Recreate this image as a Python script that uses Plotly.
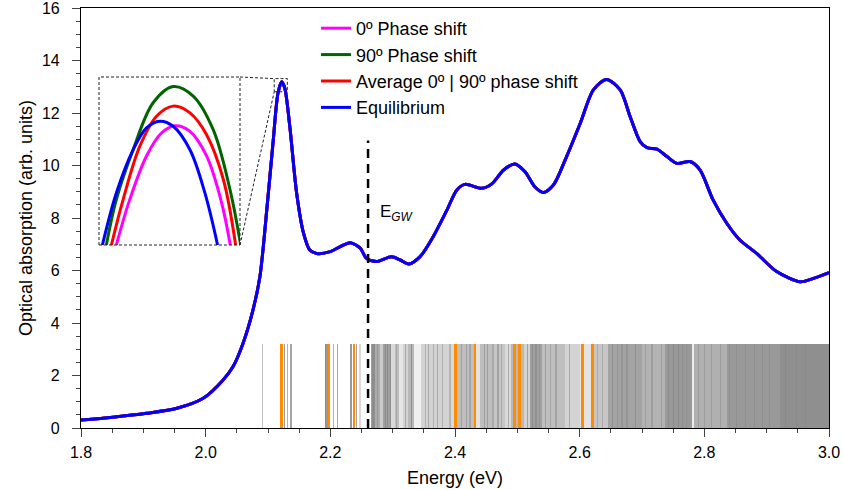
import plotly.graph_objects as go

# ---------------- data ----------------
energy = [1.800, 1.851, 1.905, 1.954, 1.996, 2.028, 2.044, 2.060, 2.076, 2.087, 2.098, 2.108,
          2.116, 2.122, 2.127, 2.135, 2.146, 2.157, 2.167, 2.178, 2.200, 2.216, 2.232, 2.248,
          2.258, 2.274, 2.298, 2.312, 2.326, 2.344, 2.365, 2.387, 2.403, 2.416, 2.443, 2.459,
          2.478, 2.496, 2.512, 2.528, 2.542, 2.558, 2.579, 2.601, 2.622, 2.643, 2.665, 2.681,
          2.697, 2.708, 2.724, 2.740, 2.756, 2.777, 2.793, 2.814, 2.836, 2.857, 2.884, 2.916,
          2.954, 2.975, 3.000]
absorption = [0.30, 0.41, 0.56, 0.75, 1.13, 1.83, 2.34, 3.23, 4.50, 5.76, 8.30, 10.85,
              12.75, 13.19, 12.94, 11.48, 8.94, 7.42, 6.78, 6.65, 6.72, 6.91, 7.06, 6.85,
              6.46, 6.34, 6.52, 6.40, 6.25, 6.53, 7.29, 8.30, 9.07, 9.28, 9.13, 9.30,
              9.83, 10.06, 9.77, 9.19, 8.97, 9.26, 10.34, 11.61, 12.88, 13.28, 12.88, 11.86,
              10.91, 10.68, 10.62, 10.34, 10.08, 10.15, 9.83, 8.69, 7.80, 7.16, 6.65, 5.96,
              5.57, 5.70, 5.92]

series_names = ["0º Phase shift", "90º Phase shift", "Average 0º | 90º phase shift", "Equilibrium"]
series_colors = ["#ff00ff", "#006400", "#ff0000", "#0000ff"]

# zoomed peak tops (inset)
inset_e = {
    "0º Phase shift": [2.11823, 2.11918, 2.12037, 2.12143, 2.12238, 2.12345, 2.12463, 2.12570, 2.12631],
    "90º Phase shift": [2.11752, 2.11823, 2.11942, 2.12084, 2.12226, 2.12368, 2.12510, 2.12629, 2.12705],
    "Average 0º | 90º phase shift": [2.11788, 2.11871, 2.11989, 2.12108, 2.12226, 2.12345, 2.12463, 2.12582, 2.12669],
    "Equilibrium": [2.11724, 2.11823, 2.11942, 2.12037, 2.12131, 2.12226, 2.12345, 2.12451, 2.12541],
}
inset_a = {
    "0º Phase shift": [13.000, 13.081, 13.159, 13.200, 13.213, 13.203, 13.159, 13.075, 13.000],
    "90º Phase shift": [13.000, 13.081, 13.170, 13.254, 13.283, 13.266, 13.206, 13.099, 13.000],
    "Average 0º | 90º phase shift": [13.000, 13.081, 13.176, 13.230, 13.248, 13.236, 13.197, 13.117, 13.000],
    "Equilibrium": [13.000, 13.093, 13.170, 13.209, 13.221, 13.212, 13.170, 13.093, 13.000],
}

# optical transitions (stick spectrum)
trans_height = 3.2
gray_e = [2.0909, 2.1262, 2.1316, 2.1369, 2.1925, 2.1947, 2.2048, 2.2118, 2.2332, 2.2423, 2.2476,
          2.267, 2.270, 2.276, 2.288, 2.292, 2.296, 2.306, 2.321, 2.330, 2.352, 2.358, 2.365,
          2.372, 2.380, 2.392, 2.411, 2.418, 2.424, 2.447, 2.452, 2.461, 2.469, 2.474, 2.486,
          2.516, 2.524, 2.530, 2.536, 2.545, 2.553, 2.562, 2.583, 2.628, 2.636, 2.652, 2.660,
          2.668, 2.676, 2.690, 2.706, 2.716, 2.731, 2.742, 2.750, 2.758, 2.765, 2.772, 2.790,
          2.800, 2.812, 2.826, 2.841, 2.852, 2.866, 2.880, 2.893, 2.905, 2.930, 2.948, 2.962]
gray_w = [0.5, 0.8, 0.6, 0.7, 0.9, 0.8, 0.6, 0.7, 0.8, 0.7, 0.3,
          0.6, 0.6, 0.5, 0.6, 0.6, 0.5, 0.4, 0.5, 0.7, 0.4, 0.5, 0.4,
          0.5, 0.4, 0.4, 0.5, 0.5, 0.4, 0.5, 0.5, 0.4, 0.5, 0.4, 0.5,
          0.6, 0.5, 0.5, 0.4, 0.5, 0.4, 0.4, 0.5, 0.4, 0.4, 0.5, 0.4,
          0.4, 0.4, 0.5, 0.4, 0.4, 0.4, 0.5, 0.5, 0.5, 0.4, 0.4, 0.4,
          0.4, 0.4, 0.4, 0.4, 0.4, 0.4, 0.4, 0.4, 0.4, 0.3, 0.3, 0.3]
band_start = [2.265, 2.272, 2.279, 2.285, 2.298, 2.303, 2.310, 2.316, 2.325, 2.335, 2.345, 2.390,
              2.400, 2.430, 2.440, 2.460, 2.480, 2.490, 2.510, 2.520, 2.540, 2.577, 2.600, 2.622,
              2.646, 2.700, 2.737, 2.780, 2.783, 2.836, 2.921]
band_end = [2.272, 2.279, 2.285, 2.298, 2.303, 2.310, 2.316, 2.325, 2.335, 2.345, 2.390, 2.400,
            2.430, 2.440, 2.460, 2.480, 2.490, 2.510, 2.520, 2.540, 2.577, 2.600, 2.622, 2.646,
            2.700, 2.737, 2.780, 2.783, 2.836, 2.921, 3.000]
band_w = [0.75, 0.65, 0.4, 0.75, 0.3, 0.5, 0.2, 0.35, 0.55, 0.12, 0.35, 0.3,
          0.5, 0.22, 0.5, 0.45, 0.3, 0.55, 0.35, 0.75, 0.5, 0.35, 0.22, 0.45,
          0.72, 0.6, 0.8, 0.15, 0.62, 0.8, 0.88]
orange_e = [2.122, 2.198, 2.238, 2.401, 2.432, 2.495, 2.504, 2.604, 2.620]

e_gw = 2.2605
e_gw_top = 10.95

zoom_box_x = (2.110, 2.131)
zoom_box_y = (12.81, 13.31)
inset_xrange = (2.117, 2.127)
inset_yrange = (13.00, 13.30)

x_range = (1.8, 3.0)
y_range = (0, 16)

# ---------------- figure ----------------
fig = go.Figure()

fig.add_trace(go.Bar(
    x=[(s + e) / 2 for s, e in zip(band_start, band_end)], y=[trans_height] * len(band_start),
    width=[e - s for s, e in zip(band_start, band_end)],
    marker=dict(color=[f"rgba(128,128,128,{w})" for w in band_w], line_width=0),
    showlegend=False, hoverinfo="skip"))
fig.add_trace(go.Bar(
    x=gray_e, y=[trans_height] * len(gray_e), width=[0.0018] * len(gray_e),
    marker=dict(color=[f"rgba(128,128,128,{w})" for w in gray_w], line_width=0),
    showlegend=False, hoverinfo="skip"))
fig.add_trace(go.Bar(
    x=orange_e, y=[trans_height] * len(orange_e), width=[0.0045] * len(orange_e),
    marker=dict(color="#ff8c00", line_width=0),
    showlegend=False, hoverinfo="skip"))

for name, col in zip(series_names, series_colors):
    fig.add_trace(go.Scatter(x=energy, y=absorption, mode="lines", name=name,
                             line=dict(color=col, width=3, shape="spline", smoothing=0.8)))

fig.add_trace(go.Scatter(x=[e_gw, e_gw], y=[0, e_gw_top], mode="lines", showlegend=False,
                         line=dict(color="black", width=2.5, dash="9px,6px")))

for name, col in zip(series_names, series_colors):
    fig.add_trace(go.Scatter(x=inset_e[name], y=inset_a[name], mode="lines", showlegend=False,
                             xaxis="x2", yaxis="y2",
                             line=dict(color=col, width=3, shape="spline", smoothing=1.0)))

# geometry
L, R, T, B = 81, 14, 8, 62
W, H = 843, 490
pw, ph = W - L - R, H - T - B
inset_px = (99, 240, 77, 245)  # left, right, top, bottom in pixels
ix0 = (inset_px[0] - L) / pw
ix1 = (inset_px[1] - L) / pw
iy0 = (H - B - inset_px[3]) / ph
iy1 = (H - B - inset_px[2]) / ph

def px(e):
    return (e - x_range[0]) / (x_range[1] - x_range[0])

def py(a):
    return (a - y_range[0]) / (y_range[1] - y_range[0])

dash_style = dict(color="#222222", width=1, dash="3px,2px")
shapes = [
    dict(type="rect", xref="paper", yref="paper", x0=ix0, x1=ix1, y0=iy0, y1=iy1, line=dash_style),
    dict(type="rect", xref="x", yref="y", x0=zoom_box_x[0], x1=zoom_box_x[1],
         y0=zoom_box_y[0], y1=zoom_box_y[1], line=dash_style),
    dict(type="line", xref="paper", yref="paper", x0=ix1, y0=iy1,
         x1=px(zoom_box_x[0]), y1=py(zoom_box_y[1]), line=dash_style),
    dict(type="line", xref="paper", yref="paper", x0=ix1, y0=iy0,
         x1=px(zoom_box_x[0]), y1=py(zoom_box_y[0]), line=dash_style),
]

font_family = "Liberation Sans, Arial, sans-serif"
fig.update_layout(
    width=W, height=H, margin=dict(l=L, r=R, t=T, b=B, autoexpand=False),
    paper_bgcolor="white", plot_bgcolor="white",
    barmode="overlay", bargap=0,
    font=dict(family=font_family, size=16, color="black"),
    showlegend=True,
    legend=dict(x=0.3142, y=(ph - 2) / ph, xanchor="left", yanchor="top",
                bgcolor="rgba(0,0,0,0)", font=dict(size=18), tracegroupgap=0),
    xaxis=dict(range=list(x_range), dtick=0.2, tickformat=".1f", ticks="outside", ticklen=8,
               tickwidth=1.2, showline=True, linecolor="black", linewidth=1.2, mirror=True,
               showgrid=False, zeroline=False, automargin=False, ticklabelstandoff=2,
               ticklabeloverflow="allow", tickfont=dict(size=16),
               title=dict(text="Energy (eV)", standoff=11, font=dict(size=18)),
               minor=dict(dtick=0.05, ticks="outside", ticklen=4, tickwidth=1, showgrid=False)),
    yaxis=dict(range=list(y_range), dtick=2, ticks="outside", ticklen=8, tickwidth=1.2,
               showline=True, linecolor="black", linewidth=1.2, mirror=True,
               showgrid=False, zeroline=False, automargin=False, ticklabelstandoff=9,
               ticklabeloverflow="allow", tickfont=dict(size=16),
               title=dict(text="Optical absorption (arb. units)", standoff=4, font=dict(size=18)),
               minor=dict(dtick=0.5, ticks="outside", ticklen=4, tickwidth=1, showgrid=False)),
    xaxis2=dict(domain=[ix0, ix1], range=list(inset_xrange), anchor="y2", visible=False),
    yaxis2=dict(domain=[iy0, iy1], range=list(inset_yrange), anchor="x2", visible=False),
    shapes=shapes,
    annotations=[dict(x=e_gw + 0.016, y=8.2, xref="x", yref="y", xanchor="left",
                      text="E<sub><i>GW</i></sub>", showarrow=False, font=dict(size=17))],
)

fig.write_html("out.html", config={"displayModeBar": False},
               post_script="document.body.style.margin='0';")
